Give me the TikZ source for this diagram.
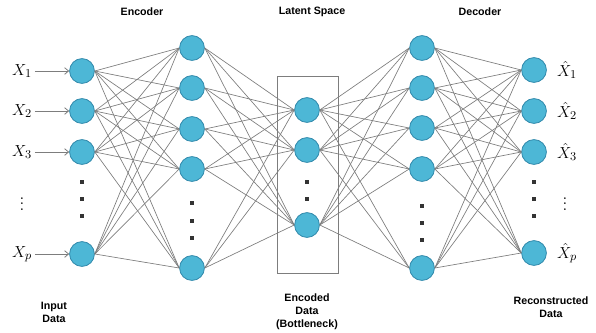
\documentclass[tikz,border=0pt]{standalone}
\usepackage{fontspec}
\setsansfont{Liberation Sans}
\usetikzlibrary{arrows,arrows.meta}
\usetikzlibrary{calc}
\definecolor{kante}{RGB}{125,125,125}
\definecolor{kugel}{RGB}{77,183,214}
\definecolor{kugelrand}{RGB}{50,138,172}
\colorlet{punkt}{black!80}

\begin{document}
\begin{tikzpicture}[x=0.75pt,y=-0.75pt,
    neuron/.style={circle, fill=kugel, draw=kugelrand, line width=0.6pt, minimum size=18.6pt, inner sep=0pt},
    punkte/.style={rectangle, fill=punkt, minimum size=3.6pt, inner sep=0pt},
    titel/.style={font=\sffamily\bfseries\fontsize{8}{9.6}\selectfont, align=center},
    var/.style={font=\fontsize{13}{15}\selectfont, inner sep=2pt}]

    \useasboundingbox (0,0) rectangle (596,332);

    \draw[kante, line width=0.6pt] (277,76) rectangle (338,273);

				\foreach \x/\y in {1/71, 2/111, 3/152, 4/254}{
					\node[neuron] (I\x) at (82,\y) {};
			}
				\foreach \x/\y in {1/48, 2/88, 3/129, 4/169, 5/268}{
					\node[neuron] (E\x) at (192,\y) {};
			}
				\foreach \x/\y in {1/110, 2/150, 3/225}{
					\node[neuron] (L\x) at (307,\y) {};
			}
				\foreach \x/\y in {1/48, 2/88, 3/128, 4/169, 5/268}{
					\node[neuron] (D\x) at (422,\y) {};
			}
				\foreach \x/\y in {1/70, 2/111, 3/152, 4/253}{
					\node[neuron] (O\x) at (534,\y) {};
			}

				\foreach \x/\y in {1/182, 2/199, 3/216}{
					\node[punkte] (pI\x) at (82,\y) {};
					\node[punkte] (pO\x) at (534,\y) {};
			}
				\foreach \x/\y in {1/203, 2/221, 3/238}{
					\node[punkte] (pE\x) at (192,\y) {};
			}
				\foreach \x/\y in {1/206, 2/223, 3/240}{
					\node[punkte] (pD\x) at (422,\y) {};
			}
				\foreach \x/\y in {1/182, 2/199}{
					\node[punkte] (pL\x) at (307,\y) {};
			}

				\foreach \i in {1,...,4}
				\foreach \j in {1,...,5}
				\draw[kante, line width=0.5pt] (I\i.east) -- (E\j.west);

				\foreach \i in {1,...,5}
				\foreach \j in {1,...,3}
				\draw[kante, line width=0.5pt] (E\i.east) -- (L\j.west);

				\foreach \i in {1,...,3}
				\foreach \j in {1,...,5}
				\draw[kante, line width=0.5pt] (L\i.east) -- (D\j.west);

				\foreach \i in {1,...,5}
				\foreach \j in {1,...,4}
				\draw[kante, line width=0.5pt] (D\i.east) -- (O\j.west);

				\foreach \x/\y/\s in {1/71/1, 2/111/2, 3/152/3, 4/254/p}{
					\node[var] (X\x) at (22,\y) {$X_\s$};
					\draw[kante, line width=0.6pt, -{Straight Barb[length=3pt,width=5pt]}] (X\x.east) -- (I\x.west);
			}
				\foreach \x/\y/\s in {1/70/1, 2/111/2, 3/152/3, 4/253/p}{
					\node[var] (XH\x) at (567,\y) {$\hat{X}_\s$};
			}
				\node[var] (vL) at (22,200) {$\vdots$};
				\node[var] (vR) at (565,200) {$\vdots$};

				\node[titel] (tE) at (142,12) {Encoder};
				\node[titel] (tL) at (312,12) {Latent Space};
				\node[titel] (tD) at (480,12) {Decoder};
				\node[titel] (bI) at (54,312) {Input\\Data};
				\node[titel] (bL) at (307,312) {Encoded\\Data\\(Bottleneck)};
				\node[titel] (bO) at (551,307) {Reconstructed\\Data};

\end{tikzpicture}
\end{document}
